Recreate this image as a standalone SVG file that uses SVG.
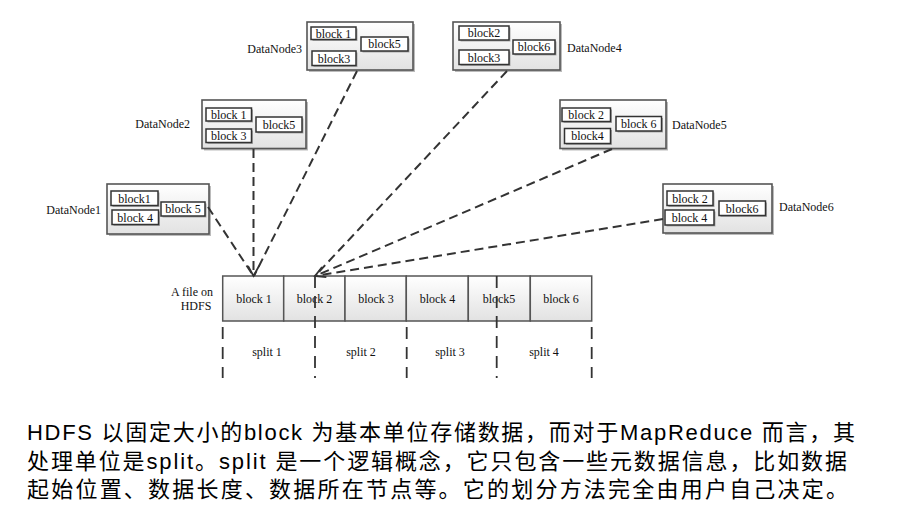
<svg xmlns="http://www.w3.org/2000/svg" width="914" height="531" viewBox="0 0 914 531">
<defs>
<linearGradient id="g" x1="0" y1="0" x2="0" y2="1">
<stop offset="0" stop-color="#ffffff"/>
<stop offset="1" stop-color="#e2e2e2"/>
</linearGradient>
<marker id="arr" markerUnits="userSpaceOnUse" markerWidth="14" markerHeight="14" viewBox="0 0 14 14" refX="12" refY="7" orient="auto">
<path d="M2,1.5 L12,7 L2,12.5" fill="none" stroke="#333" stroke-width="1.8"/>
</marker>
</defs>
<style>
.box{fill:url(#g);stroke:#555;stroke-width:1.6}
.sh{fill:#bbb}
.blk{fill:#fff;stroke:#333;stroke-width:1.5}
.bsh{fill:#aaa}
.t{font-family:"Liberation Serif","Times New Roman",serif;font-size:12px;fill:#111}
.c{text-anchor:middle}
.e{text-anchor:end}
.cell{fill:url(#g);stroke:#555;stroke-width:1.5}
.con{fill:none;stroke:#333;stroke-width:2;stroke-dasharray:9,5}
.sp{fill:none;stroke:#333;stroke-width:1.8;stroke-dasharray:12,8}
.zh{font-family:"Liberation Sans","Noto Sans CJK SC",sans-serif;font-size:22px;fill:#000}
</style>
<rect width="914" height="531" fill="#fff"/>

<g id="DataNode1">
<rect class="sh" x="109" y="186" width="102" height="50"/>
<rect class="box" x="107" y="184" width="102" height="50"/>
<rect class="bsh" x="112.5" y="192.5" width="47" height="14.5"/><rect class="blk" x="111" y="191" width="47" height="14.5"/>
<rect class="bsh" x="113.5" y="211.5" width="46.5" height="14.5"/><rect class="blk" x="112" y="210" width="46.5" height="14.5"/>
<rect class="bsh" x="162.5" y="203.5" width="44" height="14"/><rect class="blk" x="161" y="202" width="44" height="14"/>
<text class="t c" x="134.5" y="202.5">block1</text>
<text class="t c" x="135.2" y="221.5">block 4</text>
<text class="t c" x="183" y="213.2">block 5</text>
<text class="t e" x="101" y="214">DataNode1</text>
</g>

<g id="DataNode2">
<rect class="sh" x="204" y="102" width="104" height="48.5"/>
<rect class="box" x="202" y="100" width="104" height="48.5"/>
<rect class="bsh" x="207.5" y="109.5" width="45.5" height="13"/><rect class="blk" x="206" y="108" width="45.5" height="13"/>
<rect class="bsh" x="207.5" y="130.5" width="45.5" height="13.5"/><rect class="blk" x="206" y="129" width="45.5" height="13.5"/>
<rect class="bsh" x="257.5" y="118.5" width="46" height="15"/><rect class="blk" x="256" y="117" width="46" height="15"/>
<text class="t c" x="228.8" y="118.8">block 1</text>
<text class="t c" x="228.8" y="140">block 3</text>
<text class="t c" x="279" y="128.8">block5</text>
<text class="t e" x="190" y="128">DataNode2</text>
</g>

<g id="DataNode3">
<rect class="sh" x="309" y="24" width="106" height="48"/>
<rect class="box" x="307" y="22" width="106" height="48"/>
<rect class="bsh" x="312.5" y="28.5" width="45" height="12.5"/><rect class="blk" x="311" y="27" width="45" height="12.5"/>
<rect class="bsh" x="313.5" y="52.5" width="44" height="14.5"/><rect class="blk" x="312" y="51" width="44" height="14.5"/>
<rect class="bsh" x="362.5" y="38.5" width="47" height="14"/><rect class="blk" x="361" y="37" width="47" height="14"/>
<text class="t c" x="333.5" y="37.5">block 1</text>
<text class="t c" x="334" y="62.5">block3</text>
<text class="t c" x="384.5" y="48.2">block5</text>
<text class="t e" x="302" y="53">DataNode3</text>
</g>

<g id="DataNode4">
<rect class="sh" x="455" y="24" width="107" height="48"/>
<rect class="box" x="453" y="22" width="107" height="48"/>
<rect class="bsh" x="460.5" y="27.5" width="50" height="14"/><rect class="blk" x="459" y="26" width="50" height="14"/>
<rect class="bsh" x="460.5" y="51.5" width="50" height="14.5"/><rect class="blk" x="459" y="50" width="50" height="14.5"/>
<rect class="bsh" x="514.5" y="41.5" width="42" height="14"/><rect class="blk" x="513" y="40" width="42" height="14"/>
<text class="t c" x="484" y="37.2">block2</text>
<text class="t c" x="484" y="61.5">block3</text>
<text class="t c" x="534" y="51.2">block6</text>
<text class="t" x="567" y="52">DataNode4</text>
</g>

<g id="DataNode5">
<rect class="sh" x="562" y="102" width="106" height="48.5"/>
<rect class="box" x="560" y="100" width="106" height="48.5"/>
<rect class="bsh" x="563.5" y="109.5" width="48.5" height="13.5"/><rect class="blk" x="562" y="108" width="48.5" height="13.5"/>
<rect class="bsh" x="566" y="130" width="46" height="15"/><rect class="blk" x="564.5" y="128.5" width="46" height="15"/>
<rect class="bsh" x="617.5" y="118" width="45.5" height="14.5"/><rect class="blk" x="616" y="116.5" width="45.5" height="14.5"/>
<text class="t c" x="586.2" y="119">block 2</text>
<text class="t c" x="587.5" y="140.2">block4</text>
<text class="t c" x="638.8" y="128">block 6</text>
<text class="t" x="672" y="129">DataNode5</text>
</g>

<g id="DataNode6">
<rect class="sh" x="665" y="186" width="109" height="49"/>
<rect class="box" x="663" y="184" width="109" height="49"/>
<rect class="bsh" x="668.5" y="192.5" width="46" height="14.5"/><rect class="blk" x="667" y="191" width="46" height="14.5"/>
<rect class="bsh" x="666.5" y="211.5" width="49" height="15"/><rect class="blk" x="665" y="210" width="49" height="15"/>
<rect class="bsh" x="720.5" y="202.5" width="46.5" height="14.5"/><rect class="blk" x="719" y="201" width="46.5" height="14.5"/>
<text class="t c" x="690" y="202.5">block 2</text>
<text class="t c" x="689.5" y="221.8">block 4</text>
<text class="t c" x="742.2" y="212.5">block6</text>
<text class="t" x="779" y="211">DataNode6</text>
</g>

<g id="file">
<rect class="cell" x="222.7" y="276" width="61" height="45"/>
<rect class="cell" x="283.7" y="276" width="61.3" height="45"/>
<rect class="cell" x="345" y="276" width="61.3" height="45"/>
<rect class="cell" x="406.3" y="276" width="62" height="45"/>
<rect class="cell" x="468.3" y="276" width="62" height="45"/>
<rect class="cell" x="530.3" y="276" width="61.4" height="45"/>
<text class="t c" x="254" y="303">block 1</text>
<text class="t c" x="314.5" y="303">block 2</text>
<text class="t c" x="376" y="303">block 3</text>
<text class="t c" x="437.5" y="303">block 4</text>
<text class="t c" x="499" y="303">block5</text>
<text class="t c" x="561" y="303">block 6</text>
<text class="t c" x="192" y="296">A file on</text>
<text class="t c" x="196" y="310">HDFS</text>
</g>

<g id="splits">
<path class="sp" d="M222.7,327 V378 M315,276 V378 M406.7,327 V378 M496.7,276 V378 M591.7,327 V378"/>
<text class="t c" x="267" y="356">split 1</text>
<text class="t c" x="361" y="356">split 2</text>
<text class="t c" x="450" y="356">split 3</text>
<text class="t c" x="544" y="356">split 4</text>
</g>

<g id="connectors">
<path class="con" d="M208,207 L253.5,276"/>
<path class="con" d="M253.5,149 L253.5,276" marker-end="url(#arr)"/>
<path class="con" d="M357,71 L254,276"/>
<path class="con" d="M507,71 L315,276"/>
<path class="con" d="M612,149 L315,276" marker-end="url(#arr)"/>
<path class="con" d="M663,219 L315,276"/>
</g>

<g id="caption">
<text class="zh" x="27" y="440" textLength="828" lengthAdjust="spacing">HDFS 以固定大小的block 为基本单位存储数据，而对于MapReduce 而言，其</text>
<text class="zh" x="27" y="469" textLength="820" lengthAdjust="spacing">处理单位是split。split 是一个逻辑概念，它只包含一些元数据信息，比如数据</text>
<text class="zh" x="27" y="497" textLength="821" lengthAdjust="spacing">起始位置、数据长度、数据所在节点等。它的划分方法完全由用户自己决定。</text>
</g>
</svg>
